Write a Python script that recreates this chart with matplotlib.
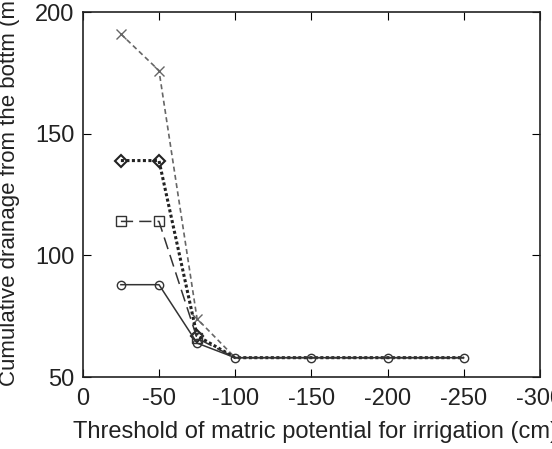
import matplotlib.pyplot as plt

plt.rcParams['font.family'] = ['Liberation Sans', 'DejaVu Sans']

# Threshold values (cm) and cumulative drainage (mm)
x = [-25, -50, -75, -100, -150, -200, -250]
s_cross = [191, 176, 74, 58, 58, 58, 58]
s_diamond = [139, 139, 67, 58, 58, 58, 58]
s_square = [114, 114, 66, 58, 58, 58, 58]
s_circle = [88, 88, 64, 58, 58, 58, 58]

fig = plt.figure(figsize=(5.52, 4.49), dpi=100)
ax = fig.add_axes([0.150, 0.160, 0.828, 0.813])

ax.plot(x, s_cross, color='#666666', linestyle=(0, (3, 2)), linewidth=1.2,
        marker='x', markersize=7, markevery=[0, 1, 2], mfc='none')
ax.plot(x, s_diamond, color='#222222', linestyle=(0, (1, 0.8)), linewidth=2.2,
        marker='D', markersize=6, markevery=[0, 1, 2], mfc='none', mew=1.5)
ax.plot(x, s_square, color='#333333', linestyle=(0, (8, 4)), linewidth=1.1,
        marker='s', markersize=7, markevery=[0, 1, 2], mfc='none')
ax.plot(x, s_circle, color='#333333', linestyle='-', linewidth=1.1,
        marker='o', markersize=6, mfc='none')

ax.set_xlim(0, -300)
ax.set_ylim(50, 200)
ax.set_xticks([0, -50, -100, -150, -200, -250, -300])
ax.set_xticklabels(['0', '-50', '-100', '-150', '-200', '-250', '-300'])
ax.set_yticks([50, 100, 150, 200])
ax.tick_params(direction='in', top=True, right=True, labelsize=17, length=6,
               labelcolor='#222222')
ax.tick_params(axis='x', pad=8)
ax.tick_params(axis='y', pad=6)
for sp in ax.spines.values():
    sp.set_linewidth(1.2)
    sp.set_color('#222222')

ax.set_xlabel('Threshold of matric potential for irrigation (cm)', fontsize=17,
              color='#222222')
ax.set_ylabel('Cumulative drainage from the bottm (mm)', fontsize=16,
              color='#222222')
ax.xaxis.set_label_coords(0.51, -0.12)
ax.yaxis.set_label_coords(-0.138, 0.54)

fig.savefig('out.png', dpi=100)
